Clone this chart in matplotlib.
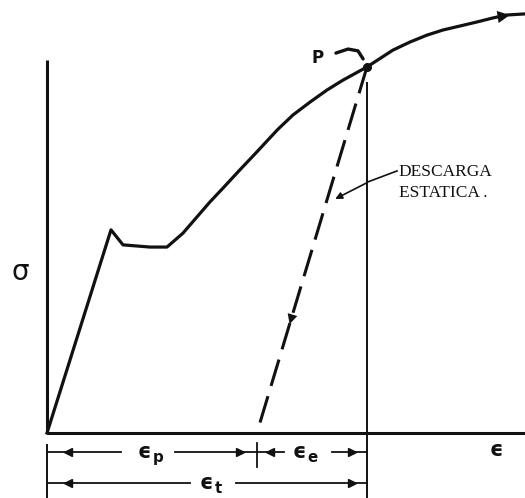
import matplotlib
matplotlib.use("Agg")
import matplotlib.pyplot as plt

# Stress-strain curve (arbitrary units): elastic line, yield drop, plateau, hardening
strain = [0.0, 2.0, 2.375, 3.22, 3.75, 4.25, 4.625, 5.09, 5.50, 6.03, 6.56,
          6.91, 7.22, 7.69, 8.22, 8.75, 9.25, 10.0, 10.81, 11.34, 11.875,
          12.375, 12.91, 13.44, 13.94, 14.375, 14.94]
stress = [0.0, 5.55, 5.14, 5.08, 5.08, 5.46, 5.84, 6.31, 6.69, 7.19, 7.68,
          8.01, 8.30, 8.69, 9.04, 9.37, 9.64, 10.0, 10.46, 10.68, 10.87,
          11.01, 11.12, 11.23, 11.34, 11.42, 11.45]

# Point P and the static unloading line down to the permanent strain
p_strain, p_stress = 10.0, 10.0
eps_plastic = 6.56
eps_total = p_strain

sigma_top = 10.19

fig = plt.figure(figsize=(5.25, 4.98), dpi=100)
ax = fig.add_axes([0, 0, 1, 1])
ax.set_xlim(-1.469, 14.94)
ax.set_ylim(-1.776, 11.83)
ax.axis("off")

k = "#111111"
EPS = "\u03f5"


def eps_label(x, y, sub, size=15):
    """Lunate epsilon with a small subscript, centred at (x, y)."""
    if sub:
        ax.text(x - 0.05, y, EPS, fontsize=size, fontweight="bold",
                ha="right", va="center", color=k, family="DejaVu Sans")
        ax.text(x - 0.02, y - 0.15, sub, fontsize=size * 0.72,
                fontweight="bold", ha="left", va="center", color=k,
                family="DejaVu Sans")
    else:
        ax.text(x, y, EPS, fontsize=size, fontweight="bold", ha="center",
                va="center", color=k, family="DejaVu Sans")


# axes
ax.plot([0, 0], [0, sigma_top], color=k, lw=2.2, solid_capstyle="butt")
ax.plot([0, 14.94], [0, 0], color=k, lw=2.2, solid_capstyle="butt")

# main curve
ax.plot(strain, stress, color=k, lw=2.3, solid_joinstyle="round")
# arrowhead near the end of the curve
ax.annotate("", xy=(14.55, 11.43), xytext=(13.9, 11.34),
            arrowprops=dict(arrowstyle="-|>", color=k, lw=0,
                            mutation_scale=22))

# point P
ax.plot([p_strain], [p_stress], "o", color=k, ms=5.5)
ax.text(8.47, 10.25, "P", fontsize=12, fontweight="bold", color=k,
        ha="center", va="center", family="DejaVu Sans")
ax.plot([9.03, 9.41, 9.72, 9.88], [10.38, 10.49, 10.44, 10.22], color=k,
        lw=2.4, solid_capstyle="round")

# unloading line (dashed)
ax.plot([p_strain, eps_plastic], [p_stress, 0], color=k, lw=2.2,
        dashes=(9, 3.5))
t = 0.71
mx = p_strain + t * (eps_plastic - p_strain)
my = p_stress * (1 - t)
ax.annotate("", xy=(mx, my),
            xytext=(mx + 0.3 * (p_strain - eps_plastic) / p_stress, my + 0.3),
            arrowprops=dict(arrowstyle="-|>", color=k, lw=0, mutation_scale=18))

# vertical reference at total strain
ax.plot([eps_total, eps_total], [9.56, -1.776], color=k, lw=1.4)
# left extension line for the dimensions
ax.plot([0, 0], [-0.33, -1.776], color=k, lw=1.4)

# label for the unloading line
ax.annotate("", xy=(8.93, 6.36), xytext=(10.05, 6.86),
            arrowprops=dict(arrowstyle="-|>", color=k, lw=1.2,
                            mutation_scale=10))
ax.plot([10.03, 10.94], [6.86, 7.16], color=k, lw=1.2)
ax.text(10.97, 7.13, "DESCARGA", fontsize=12.5, family="Liberation Serif",
        ha="left", va="center", color=k)
ax.text(11.0, 6.56, "ESTATICA .", fontsize=12.5, family="Liberation Serif",
        ha="left", va="center", color=k)

# axis symbols
ax.text(-0.84, 4.40, "σ", fontsize=20, ha="center", va="center", color=k,
        family="DejaVu Sans")
eps_label(14.06, -0.46, "")

# dimension lines
lw_d = 1.3
y1, y2 = -0.52, -1.37
ax.plot([0, 2.3], [y1, y1], color=k, lw=lw_d)
ax.plot([4.0, eps_plastic], [y1, y1], color=k, lw=lw_d)
ax.plot([eps_plastic, 7.4], [y1, y1], color=k, lw=lw_d)
ax.plot([8.9, eps_total], [y1, y1], color=k, lw=lw_d)
ax.plot([eps_plastic, eps_plastic], [-0.27, -0.93], color=k, lw=lw_d)
ax.plot([0, 4.47], [y2, y2], color=k, lw=lw_d)
ax.plot([5.9, eps_total], [y2, y2], color=k, lw=lw_d)

for x, m in [(0.66, "<"), (eps_plastic - 0.53, ">"), (eps_plastic + 0.41, "<"),
             (eps_total - 0.47, ">")]:
    ax.plot([x], [y1], marker=m, color=k, ms=6)
for x, m in [(0.66, "<"), (eps_total - 0.47, ">")]:
    ax.plot([x], [y2], marker=m, color=k, ms=6)

eps_label(3.31, y1, "p")
eps_label(8.16, y1, "e")
eps_label(5.25, y2, "t")

fig.savefig("out.png", dpi=100)
